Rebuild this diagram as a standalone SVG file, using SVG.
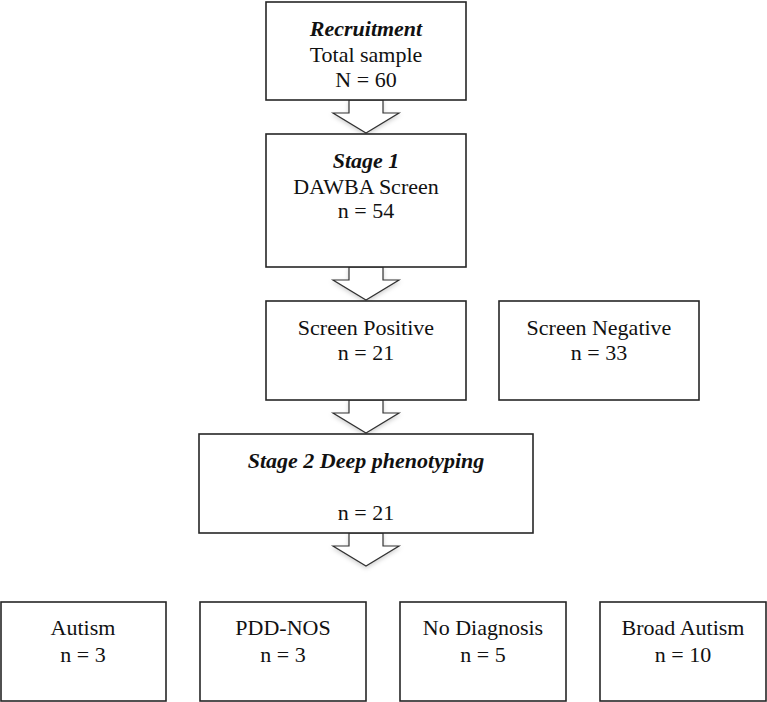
<svg xmlns="http://www.w3.org/2000/svg" width="767" height="702" viewBox="0 0 767 702">
<style>
.box{fill:#fff;stroke:#262626;stroke-width:1.6}
.t{font-family:"Liberation Serif","Times New Roman",serif;font-size:22px;fill:#111;text-anchor:middle}
.bi{font-weight:bold;font-style:italic}
.arr{fill:#fff;stroke:#333;stroke-width:1.2;stroke-linejoin:miter}
</style>
<defs>
<filter id="sh" x="-30%" y="-30%" width="160%" height="170%">
<feDropShadow dx="0" dy="2" stdDeviation="2" flood-color="#000" flood-opacity="0.18"/>
</filter>
<polygon id="ar" points="-17,0 17,0 17,13 33,13 0,33 -33,13 -17,13"/>
</defs>
<rect width="767" height="702" fill="#fff"/>
<g id="connectors">
<use href="#ar" class="arr" x="366" y="100" filter="url(#sh)"/>
<use href="#ar" class="arr" x="366" y="267" filter="url(#sh)"/>
<use href="#ar" class="arr" x="366" y="400" filter="url(#sh)"/>
<use href="#ar" class="arr" x="366" y="533" filter="url(#sh)"/>
</g>
<g id="recruitment">
<rect class="box" x="266" y="2" width="200" height="98"/>
<text class="t bi" x="366" y="36">Recruitment</text>
<text class="t" x="366" y="62">Total sample</text>
<text class="t" x="366" y="87">N = 60</text>
</g>
<g id="stage1">
<rect class="box" x="266" y="134" width="200" height="133"/>
<text class="t bi" x="366" y="168">Stage 1</text>
<text class="t" x="366" y="194">DAWBA Screen</text>
<text class="t" x="366" y="218">n = 54</text>
</g>
<g id="screen-positive">
<rect class="box" x="266" y="301" width="200" height="99"/>
<text class="t" x="366" y="335">Screen Positive</text>
<text class="t" x="366" y="360">n = 21</text>
</g>
<g id="screen-negative">
<rect class="box" x="499" y="301" width="200" height="99"/>
<text class="t" x="599" y="335">Screen Negative</text>
<text class="t" x="599" y="360">n = 33</text>
</g>
<g id="stage2">
<rect class="box" x="199" y="434" width="334" height="99"/>
<text class="t bi" x="366" y="468">Stage 2 Deep phenotyping</text>
<text class="t" x="366" y="520">n = 21</text>
</g>
<g id="autism">
<rect class="box" x="1" y="602" width="165" height="99"/>
<text class="t" x="83" y="635">Autism</text>
<text class="t" x="83" y="662">n = 3</text>
</g>
<g id="pdd-nos">
<rect class="box" x="200" y="602" width="166" height="99"/>
<text class="t" x="283" y="635">PDD-NOS</text>
<text class="t" x="283" y="662">n = 3</text>
</g>
<g id="no-diagnosis">
<rect class="box" x="400" y="602" width="166" height="99"/>
<text class="t" x="483" y="635">No Diagnosis</text>
<text class="t" x="483" y="662">n = 5</text>
</g>
<g id="broad-autism">
<rect class="box" x="600" y="602" width="166" height="99"/>
<text class="t" x="683" y="635">Broad Autism</text>
<text class="t" x="683" y="662">n = 10</text>
</g>
</svg>
